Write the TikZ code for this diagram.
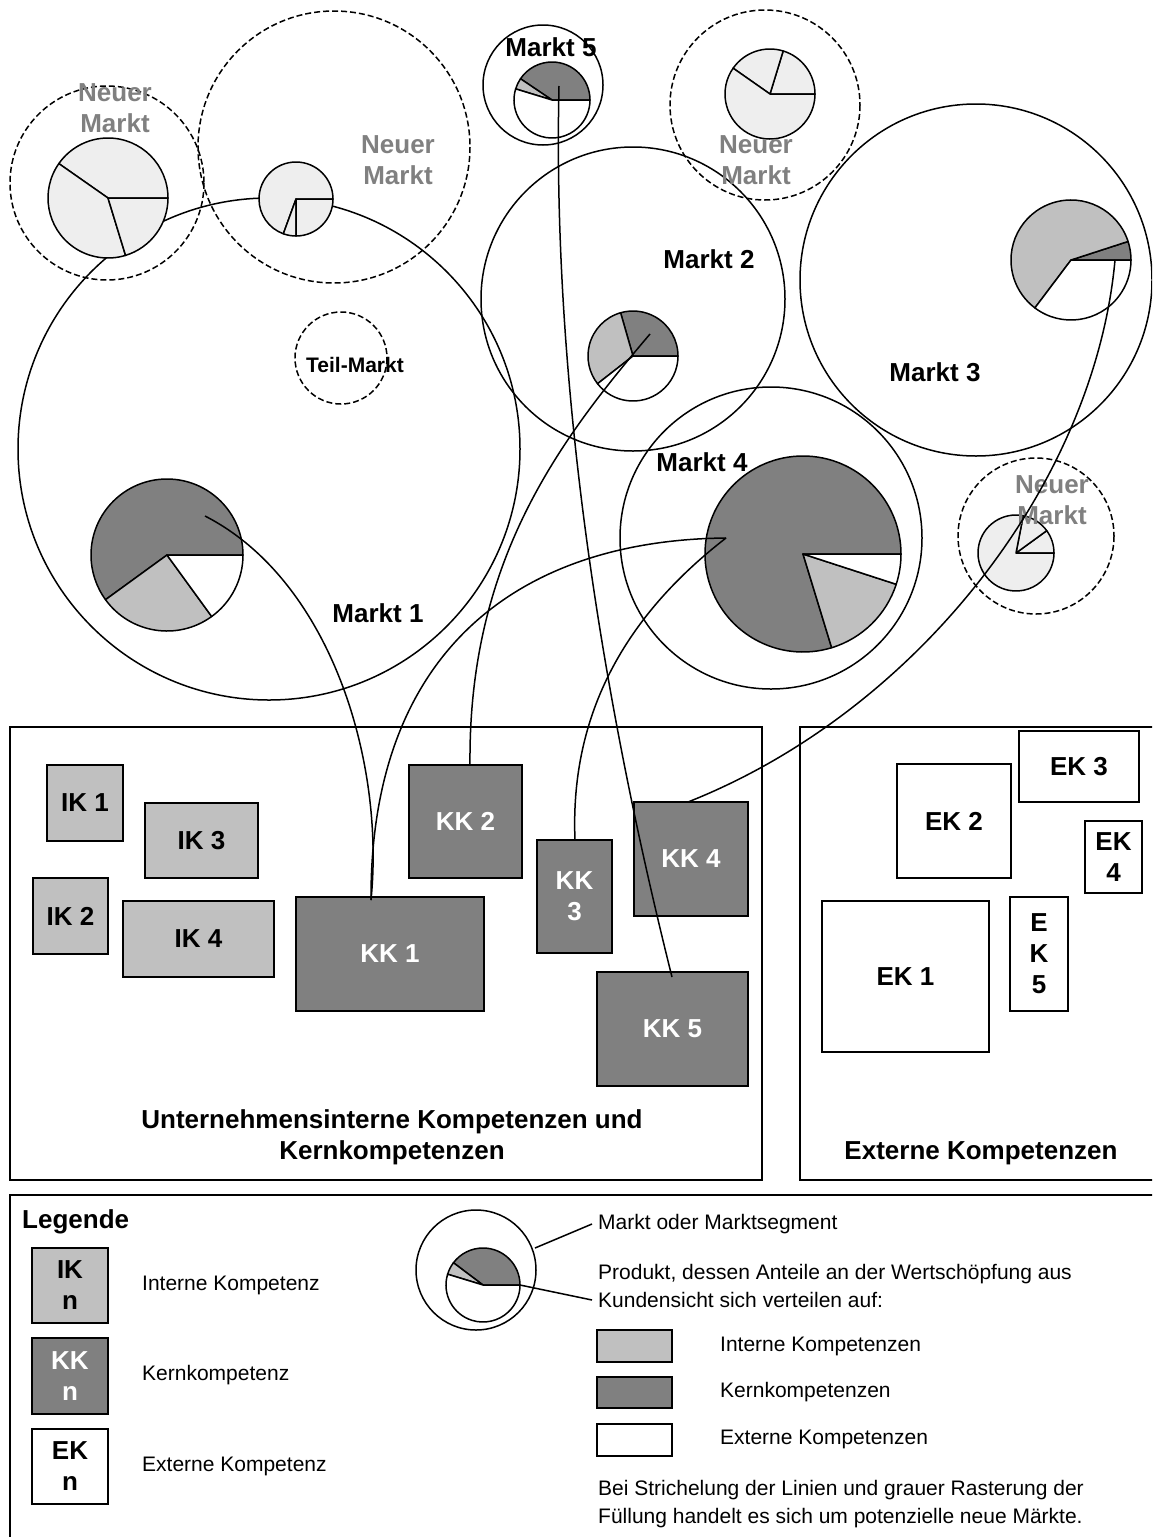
\documentclass[tikz,border=0pt]{standalone}
\usepackage{fontspec}
\setmainfont{Liberation Sans}
\definecolor{kkgray}{RGB}{128,128,128}
\definecolor{ikgray}{RGB}{192,192,192}
\definecolor{newgray}{RGB}{238,238,238}
\definecolor{labelgray}{RGB}{128,128,128}

% one pie slice: centre, radius, from angle, to angle (counter-clockwise), fill
\newcommand\pieslice[5]{%
  \filldraw[fill=#5, draw=black, line width=1.5pt, line join=round]
    (#1) -- ++(-#3:#2) arc[start angle=-#3, end angle=-#4, radius=#2] -- cycle;}
\newcommand\bigbf{\fontsize{26}{31}\selectfont\bfseries}

\tikzset{
  frame/.style={draw, line width=1.5pt},
  market/.style={draw, line width=1.5pt},
  newmarket/.style={draw, line width=1.5pt, dash pattern=on 6pt off 3pt},
  compbox/.style={draw, line width=1.5pt, inner sep=0pt, font=\bigbf, align=center},
  ikbox/.style={compbox, fill=ikgray},
  kkbox/.style={compbox, fill=kkgray, text=white},
  ekbox/.style={compbox, fill=white},
  mlabel/.style={font=\bigbf, inner sep=0pt},
  nlabel/.style={font=\bigbf, text=labelgray, align=center, inner sep=0pt},
  link/.style={line width=1.5pt},
  legtext/.style={font=\fontsize{21}{28}\selectfont, anchor=west, align=left, inner sep=0pt}
}

\begin{document}
\begin{tikzpicture}[x=1pt,y=-1pt]
\useasboundingbox (0,0) rectangle (1152,1537);
\clip (0,0) rectangle (1152,1537);
\fill[white] (0,0) rectangle (1152,1537);

% ---- frames
\draw[frame] (10,727) rectangle (762,1180);
\draw[frame] (800,727) rectangle (1175,1180);
\draw[frame] (10,1195) rectangle (1175,1560);

% ---- markets
\draw[market] (269,449) circle[radius=251];
\draw[market] (633,299) circle[radius=152];
\draw[market] (976,280) circle[radius=176];
\draw[market] (771,538) circle[radius=151];
\draw[market] (543,85) circle[radius=60];
\draw[newmarket] (107,183) circle[radius=97];
\draw[newmarket] (334,147) circle[radius=136];
\draw[newmarket] (765,105) circle[radius=95];
\draw[newmarket] (1036,536) circle[radius=78];
\draw[newmarket] (341,358) circle[radius=46];

% ---- products (pies)
% Markt 1
\pieslice{167,555}{76}{0}{216}{kkgray}
\pieslice{167,555}{76}{216}{306}{ikgray}
\pieslice{167,555}{76}{306}{360}{white}
% Markt 2
\pieslice{633,356}{45}{0}{106}{kkgray}
\pieslice{633,356}{45}{106}{218}{ikgray}
\pieslice{633,356}{45}{218}{360}{white}
% Markt 3
\pieslice{1071,260}{60}{0}{18}{kkgray}
\pieslice{1071,260}{60}{18}{233}{ikgray}
\pieslice{1071,260}{60}{233}{360}{white}
% Markt 4
\pieslice{803,554}{98}{0}{287}{kkgray}
\pieslice{803,554}{98}{287}{342}{ikgray}
\pieslice{803,554}{98}{342}{360}{white}
% Markt 5
\pieslice{552,100}{38}{0}{146}{kkgray}
\pieslice{552,100}{38}{146}{163}{ikgray}
\pieslice{552,100}{38}{163}{360}{white}
% new markets
\pieslice{108,198}{60}{0}{145}{newgray}
\pieslice{108,198}{60}{145}{287}{newgray}
\pieslice{108,198}{60}{287}{360}{newgray}
\pieslice{296,199}{37}{0}{250}{newgray}
\pieslice{296,199}{37}{250}{270}{newgray}
\pieslice{296,199}{37}{270}{360}{newgray}
\pieslice{770,94}{45}{0}{73}{newgray}
\pieslice{770,94}{45}{73}{145}{newgray}
\pieslice{770,94}{45}{145}{360}{newgray}
\pieslice{1016,553}{38}{0}{36}{newgray}
\pieslice{1016,553}{38}{36}{79}{newgray}
\pieslice{1016,553}{38}{79}{360}{newgray}

% ---- market labels
\node[mlabel] (l1) at (378,613) {Markt 1};
\node[mlabel] (l2) at (709,259) {Markt 2};
\node[mlabel] (l3) at (935,372) {Markt 3};
\node[mlabel] (l4) at (702,462) {Markt 4};
\node[mlabel] (l5) at (551,47) {Markt 5};
\node[font=\fontsize{21}{25}\selectfont\bfseries, inner sep=0pt] (lt) at (355,365) {Teil-Markt};
\node[nlabel] (n1) at (115,108) {Neuer\\Markt};
\node[nlabel] (n2) at (398,160) {Neuer\\Markt};
\node[nlabel] (n3) at (756,160) {Neuer\\Markt};
\node[nlabel] (n4) at (1052,500) {Neuer\\Markt};

% ---- internal competences
\node[ikbox, minimum width=76pt, minimum height=76pt] (ik1) at (85,803) {IK 1};
\node[ikbox, minimum width=113pt, minimum height=75pt] (ik3) at (201.5,840.5) {IK 3};
\node[ikbox, minimum width=75pt, minimum height=76pt] (ik2) at (70.5,916) {IK 2};
\node[ikbox, minimum width=151pt, minimum height=76pt] (ik4) at (198.5,939) {IK 4};
\node[kkbox, minimum width=188pt, minimum height=114pt] (kk1) at (390,954) {KK 1};
\node[kkbox, minimum width=113pt, minimum height=113pt] (kk2) at (465.5,821.5) {KK 2};
\node[kkbox, minimum width=75pt, minimum height=113pt] (kk3) at (574.5,896.5) {KK\\3};
\node[kkbox, minimum width=114pt, minimum height=114pt] (kk4) at (691,859) {KK 4};
\node[kkbox, minimum width=151pt, minimum height=114pt] (kk5) at (672.5,1029) {KK 5};
\node[mlabel, align=center] (tint) at (392,1137) {Unternehmensinterne Kompetenzen und\\Kernkompetenzen};

% ---- external competences
\node[ekbox, minimum width=120pt, minimum height=71pt] (ek3) at (1079,766.5) {EK 3};
\node[ekbox, minimum width=114pt, minimum height=114pt] (ek2) at (954,821) {EK 2};
\node[ekbox, minimum width=57pt, minimum height=72pt] (ek4) at (1113.5,857) {EK\\4};
\node[ekbox, minimum width=58pt, minimum height=114pt] (ek5) at (1039,954) {E\\K\\5};
\node[ekbox, minimum width=167pt, minimum height=151pt] (ek1) at (905.5,976.5) {EK 1};
\node[mlabel] (text) at (981,1153) {Externe Kompetenzen};

% ---- connectors product -> competence
\coordinate (p1) at (205,516);
\coordinate (p2) at (650,334);
\coordinate (p3) at (1115,260);
\coordinate (p4) at (726,538);
\coordinate (p5) at (559,86);
\coordinate (c1) at (371,900);
\coordinate (c2) at (470,765);
\coordinate (c3) at (575,840);
\coordinate (c4) at (688,802);
\coordinate (c5) at (672,977);
\draw[link] (p1) .. controls (330,580) and (385,760) .. (c1);
\draw[link] (p4) .. controls (520,540) and (370,650) .. (c1);
\draw[link] (p4) .. controls (620,620) and (570,720) .. (c3);
\draw[link] (p2) .. controls (560,440) and (468,560) .. (c2);
\draw[link] (p5) .. controls (553,350) and (590,650) .. (c5);
\draw[link] (p3) .. controls (1095,480) and (920,710) .. (c4);

% ---- legend
\node[font=\bigbf, anchor=west, inner sep=0pt] (leg) at (22,1222) {Legende};
\node[ikbox, minimum width=76pt, minimum height=75pt] (lik) at (70,1285.5) {IK\\n};
\node[kkbox, minimum width=76pt, minimum height=76pt] (lkk) at (70,1376) {KK\\n};
\node[ekbox, minimum width=76pt, minimum height=75pt] (lek) at (70,1466.5) {EK\\n};
\node[legtext] (tik) at (142,1285) {Interne Kompetenz};
\node[legtext] (tkk) at (142,1375) {Kernkompetenz};
\node[legtext] (tek) at (142,1466) {Externe Kompetenz};

\draw[market] (476,1270) circle[radius=60];
\pieslice{483,1285}{37}{0}{143}{kkgray}
\pieslice{483,1285}{37}{143}{163}{ikgray}
\pieslice{483,1285}{37}{163}{360}{white}
\coordinate (lm) at (535,1248);
\coordinate (lp) at (520,1285);
\node[legtext] (tm) at (598,1224) {Markt oder Marktsegment};
\node[legtext] (tp) at (598,1286) {Produkt, dessen Anteile an der Wertschöpfung aus\\Kundensicht sich verteilen auf:};
\draw[link] (lm) -- ([xshift=-6pt]tm.west);
\draw[link] (lp) -- ([xshift=-6pt,yshift=-14pt]tp.west);

\node[ikbox, minimum width=75pt, minimum height=32pt] (sik) at (634.5,1346) {};
\node[kkbox, minimum width=75pt, minimum height=31pt] (skk) at (634.5,1392.5) {};
\node[ekbox, minimum width=75pt, minimum height=32pt] (sek) at (634.5,1440) {};
\node[legtext] (tsik) at (720,1346) {Interne Kompetenzen};
\node[legtext] (tskk) at (720,1392) {Kernkompetenzen};
\node[legtext] (tsek) at (720,1439) {Externe Kompetenzen};
\node[legtext] (tnote) at (598,1504) {Bei Strichelung der Linien und grauer Rasterung der\\Füllung handelt es sich um potenzielle neue Märkte.};
\end{tikzpicture}
\end{document}
